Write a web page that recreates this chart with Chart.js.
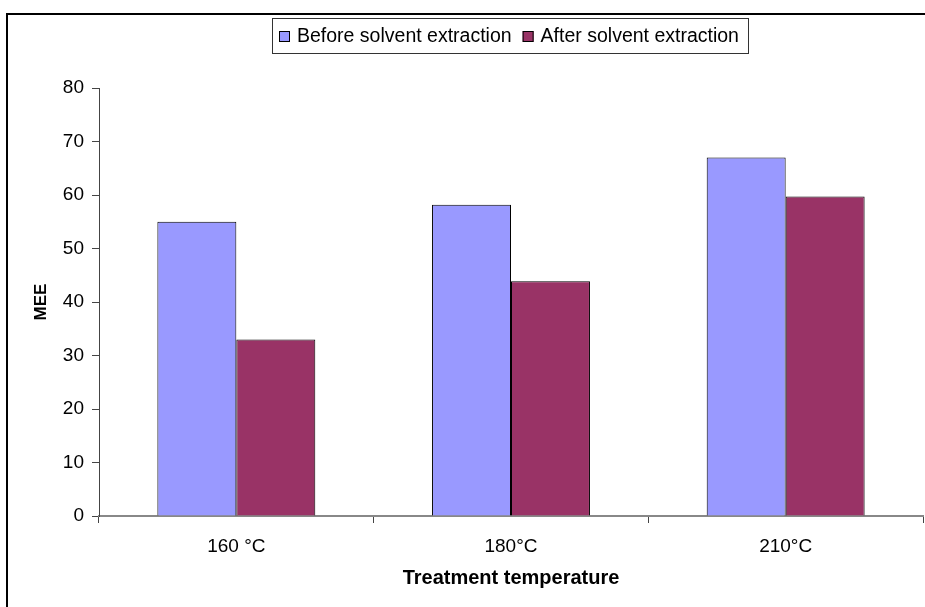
<!DOCTYPE html>
<html>
<head>
<meta charset="utf-8">
<script src="https://cdn.jsdelivr.net/npm/chart.js@4/dist/chart.umd.min.js"></script>
<style>
  html, body { margin: 0; padding: 0; background: #fff; }
  #wrap { width: 925px; height: 607px; position: relative; }
</style>
</head>
<body>
<div id="wrap"><canvas id="chart"></canvas></div>
<script>
const categories = ["160 °C", "180°C", "210°C"];
const beforeExtraction = [55, 58.2, 67];
const afterExtraction = [33, 43.9, 59.7];
const seriesNames = ["Before solvent extraction", "After solvent extraction"];
const yTicks = [0, 10, 20, 30, 40, 50, 60, 70, 80];

const FONT = "'Liberation Sans', Arial, sans-serif";

// outer frame + legend box, drawn like the Excel original
const framePlugin = {
    id: "frame",
    beforeDraw(chart) {
        const ctx = chart.ctx;
        ctx.save();
        ctx.fillStyle = "#ffffff";
        ctx.fillRect(0, 0, chart.width, chart.height);
        ctx.strokeStyle = "#000000";
        ctx.lineWidth = 2;
        ctx.strokeRect(7, 14, chart.width + 20, chart.height + 20);
        ctx.restore();
    },
    afterDraw(chart) {
        const ctx = chart.ctx;
        ctx.save();
        ctx.font = "19.5px " + FONT;
        ctx.textBaseline = "middle";
        const boxX = 272, boxY = 18, boxW = 476, boxH = 35;
        ctx.fillStyle = "#ffffff";
        ctx.fillRect(boxX, boxY, boxW, boxH);
        ctx.strokeStyle = "#333333";
        ctx.lineWidth = 1;
        ctx.strokeRect(boxX + 0.5, boxY + 0.5, boxW, boxH);
        let x = 279;
        const cy = 36;
        chart.data.datasets.forEach(function (ds) {
            ctx.fillStyle = ds.backgroundColor;
            ctx.fillRect(x, cy - 5, 11, 11);
            ctx.strokeStyle = "#000000";
            ctx.strokeRect(x + 0.5, cy - 4.5, 10, 10);
            x += 18;
            ctx.fillStyle = "#000000";
            ctx.fillText(ds.label, x, cy + 1);
            x += ctx.measureText(ds.label).width + 11;
        });
        ctx.restore();
    }
};

new Chart(document.getElementById("chart"), {
    type: "bar",

    data: {
        labels: categories,
        datasets: [
            {
                label: seriesNames[0],
                data: beforeExtraction,
                backgroundColor: "#9999ff",
                borderColor: "#000000",
                borderWidth: 1
            },
            {
                label: seriesNames[1],
                data: afterExtraction,
                backgroundColor: "#993366",
                borderColor: "#000000",
                borderWidth: 1
            }
        ]
    },

    options: {
        responsive: true,
        maintainAspectRatio: false,
        animation: false,
        categoryPercentage: 0.575,
        barPercentage: 1,

        layout: {
            padding: { top: 88, right: 2, left: 0, bottom: 0 }
        },

        plugins: {
            legend: { display: false },
            tooltip: { enabled: false }
        },

        scales: {
            x: {
                afterFit(scale) { scale.height = 91; },
                border: { color: "#888888", width: 2 },
                grid: {
                    offset: true,
                    drawOnChartArea: false,
                    tickLength: 7,
                    color: "#444444"
                },
                ticks: {
                    color: "#000000",
                    padding: 12,
                    font: { family: FONT, size: 19 }
                },
                title: {
                    display: true,
                    text: "Treatment temperature",
                    color: "#000000",
                    padding: { top: 0, bottom: 17 },
                    font: { family: FONT, size: 20, weight: "bold" }
                }
            },

            y: {
                min: yTicks[0],
                max: yTicks[yTicks.length - 1],
                afterFit(scale) { scale.width = 99; },
                afterBuildTicks(scale) {
                    scale.ticks = yTicks.map(function (v) { return { value: v }; });
                },
                border: { color: "#444444", width: 1 },
                grid: {
                    drawOnChartArea: false,
                    tickLength: 7,
                    color: "#444444"
                },
                ticks: {
                    color: "#000000",
                    padding: 8,
                    font: { family: FONT, size: 19 }
                },
                title: {
                    display: true,
                    text: "MEE",
                    color: "#000000",
                    padding: { top: 31, bottom: 0 },
                    font: { family: FONT, size: 17, weight: "bold" }
                }
            }
        }
    },

    plugins: [framePlugin]
});
</script>
</body>
</html>
